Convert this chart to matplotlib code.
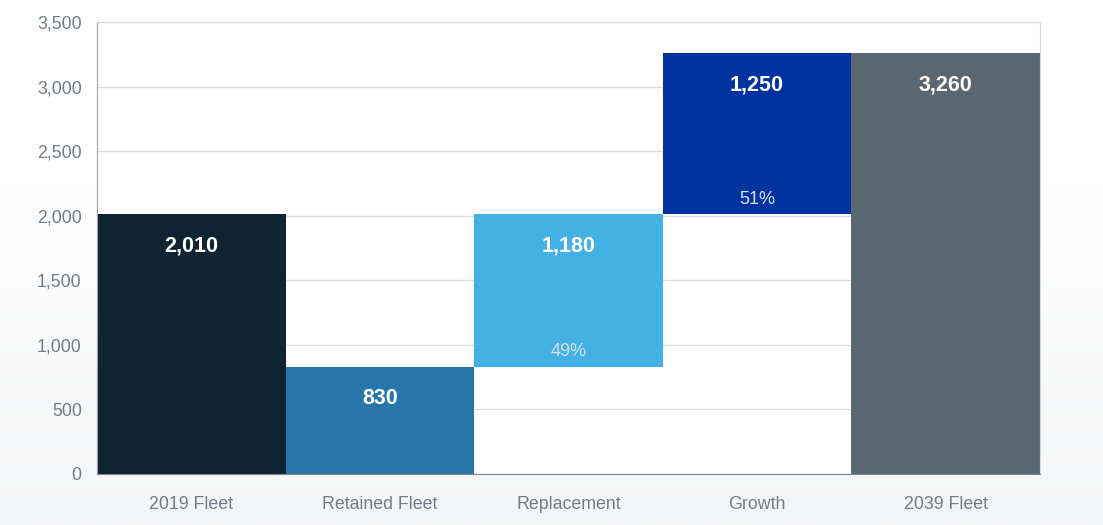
import numpy as np
import matplotlib.pyplot as plt

plt.rcParams["font.family"] = ["Liberation Sans", "DejaVu Sans"]

categories = ["2019 Fleet", "Retained Fleet", "Replacement", "Growth", "2039 Fleet"]
bar_bottoms = [0, 0, 830, 2010, 0]
bar_values = [2010, 830, 1180, 1250, 3260]
share_labels = [None, None, "49%", "51%", None]
bar_colors = ["#0f2433", "#2776a9", "#43b1e4", "#0033a0", "#5b6770"]
y_ticks = [0, 500, 1000, 1500, 2000, 2500, 3000, 3500]

fig = plt.figure(figsize=(11.03, 5.25), dpi=100)

# soft grey fade towards the bottom of the canvas
bg = fig.add_axes([0, 0, 1, 1], zorder=-10)
grad = np.ones((256, 1))
rows = np.linspace(0, 1, 256)
grad[:, 0] = np.clip((rows - 0.35) / 0.65, 0, 1)
bg.imshow(grad, aspect="auto", cmap=plt.matplotlib.colors.LinearSegmentedColormap.from_list(
    "fade", ["#ffffff", "#f4f5f6"]), origin="upper", extent=[0, 1, 0, 1])
bg.axis("off")

ax = fig.add_axes([97 / 1103, 1 - 474 / 525, (1040 - 97) / 1103, (474 - 22) / 525])
ax.set_facecolor("white")

x = np.arange(len(categories))
ax.bar(x, bar_values, bottom=bar_bottoms, width=1.0, color=bar_colors,
       edgecolor="none", zorder=3)

ax.set_xlim(-0.5, len(categories) - 0.5)
ax.set_ylim(0, 3500)
ax.set_yticks(y_ticks)
ax.set_yticklabels([f"{v:,}" for v in y_ticks])
ax.set_xticks(x)
ax.set_xticklabels(categories)
ax.tick_params(axis="both", length=0, labelsize=12.8, labelcolor="#737c85")
ax.tick_params(axis="y", pad=11)
ax.tick_params(axis="x", pad=16)

ax.grid(axis="y", color="#dcdfe2", linewidth=1, zorder=1)
ax.set_axisbelow(True)
for side in ["top", "right"]:
    ax.spines[side].set_color("#d6d9dc")
ax.spines["left"].set_color("#9aa3ab")
ax.spines["bottom"].set_color("#7d868e")
for sp in ax.spines.values():
    sp.set_zorder(4)

# value labels just below each bar's top, share labels near the base
for xi, b, v, s in zip(x, bar_bottoms, bar_values, share_labels):
    ax.annotate(f"{v:,}", (xi, b + v), xytext=(0, -23), textcoords="offset points",
                ha="center", va="center", color="white", fontsize=15.5,
                fontweight="bold", zorder=5)
    if s:
        ax.annotate(s, (xi, b), xytext=(0, 11), textcoords="offset points",
                    ha="center", va="center", color="#d6e2f2", fontsize=13, zorder=5)

fig.savefig("out.png", dpi=100)
